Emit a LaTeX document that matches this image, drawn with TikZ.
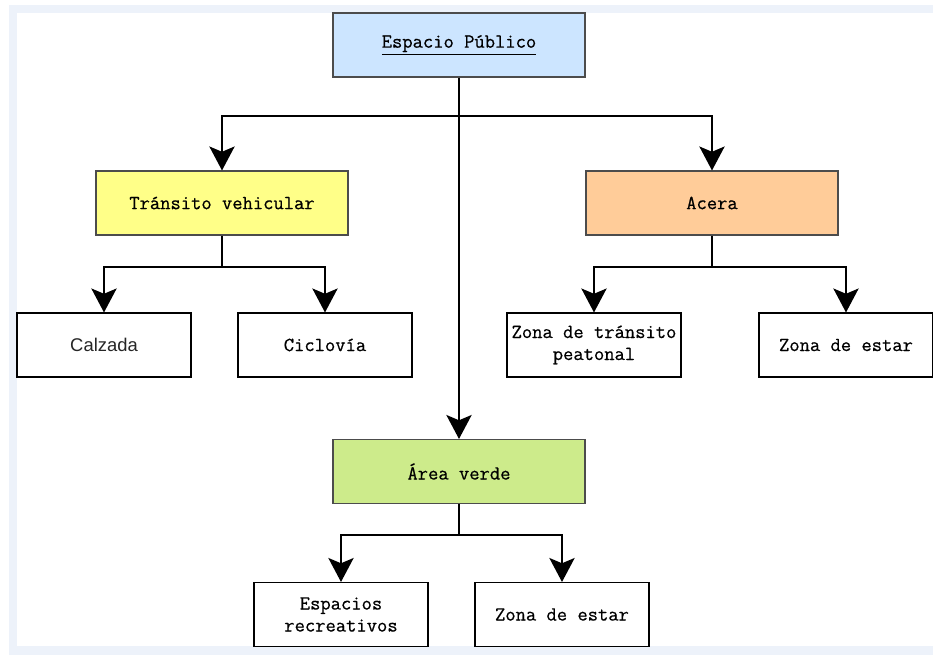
\documentclass[tikz,border=0pt]{standalone}
\usepackage{fontspec}
\newfontfamily\arialfont{Liberation Sans}
\newfontfamily\boxfont[FakeBold=0.6]{Latin Modern Mono}
\usepackage{tikz}
\usetikzlibrary{arrows.meta,positioning}
\definecolor{frameband}{HTML}{EDF2FA}
\definecolor{fillblue}{HTML}{CCE5FF}
\definecolor{fillyellow}{HTML}{FFFF88}
\definecolor{fillorange}{HTML}{FFCC99}
\definecolor{fillgreen}{HTML}{CDEB8B}
\tikzset{
  bigbox/.style={draw=black!70,line width=0.8pt,minimum width=189pt,minimum height=48pt,
    inner sep=0pt,font=\boxfont\fontsize{15}{16.5}\selectfont,align=center},
  leafbox/.style={draw=black,line width=0.8pt,fill=white,minimum width=130.5pt,minimum height=48pt,
    inner sep=0pt,font=\boxfont\fontsize{15}{16.5}\selectfont,align=center},
  arr/.style={draw=black,line width=1.1pt,-{Stealth[length=18pt,width=19pt,inset=4pt]}}
}

\begin{document}
\begin{tikzpicture}[x=0.75pt,y=-0.75pt]
\useasboundingbox (0,0) rectangle (933,655);
% page frame
\fill[frameband] (9,5) rectangle (933,655);
\fill[white] (17,13) rectangle (933,646);

\node[bigbox,fill=fillblue] (EP) at (459,45) {\underline{Espacio Público}};
\node[bigbox,fill=fillyellow] (TV) at (222,203) {Tránsito vehicular};
\node[bigbox,fill=fillorange] (AC) at (712,203) {Acera};
\node[bigbox,fill=fillgreen] (AV) at (459,471.5) {Área verde};

\node[leafbox,font=\arialfont\fontsize{13.8}{16.5}\selectfont,text=black!85] (CA) at (104,345) {Calzada};
\node[leafbox] (CI) at (325,345) {Ciclovía};
\node[leafbox] (ZT) at (594,345) {Zona de tránsito\\peatonal};
\node[leafbox] (ZE) at (846,345) {Zona de estar};
\node[leafbox] (ER) at (341,614.5) {Espacios\\recreativos};
\node[leafbox] (ZA) at (562,614.5) {Zona de estar};

% junctions
\coordinate (e1) at (459,116);
\coordinate (t1) at (222,267);
\coordinate (a1) at (712,267);
\coordinate (v1) at (459,535);

\draw[arr] (EP) -- (AV);
\draw[arr] (e1) -| (TV);
\draw[arr] (e1) -| (AC);
\draw[arr] (TV) -- (t1) -| (CA);
\draw[arr] (t1) -| (CI);
\draw[arr] (AC) -- (a1) -| (ZT);
\draw[arr] (a1) -| (ZE);
\draw[arr] (AV) -- (v1) -| (ER);
\draw[arr] (v1) -| (ZA);
\end{tikzpicture}
\end{document}
